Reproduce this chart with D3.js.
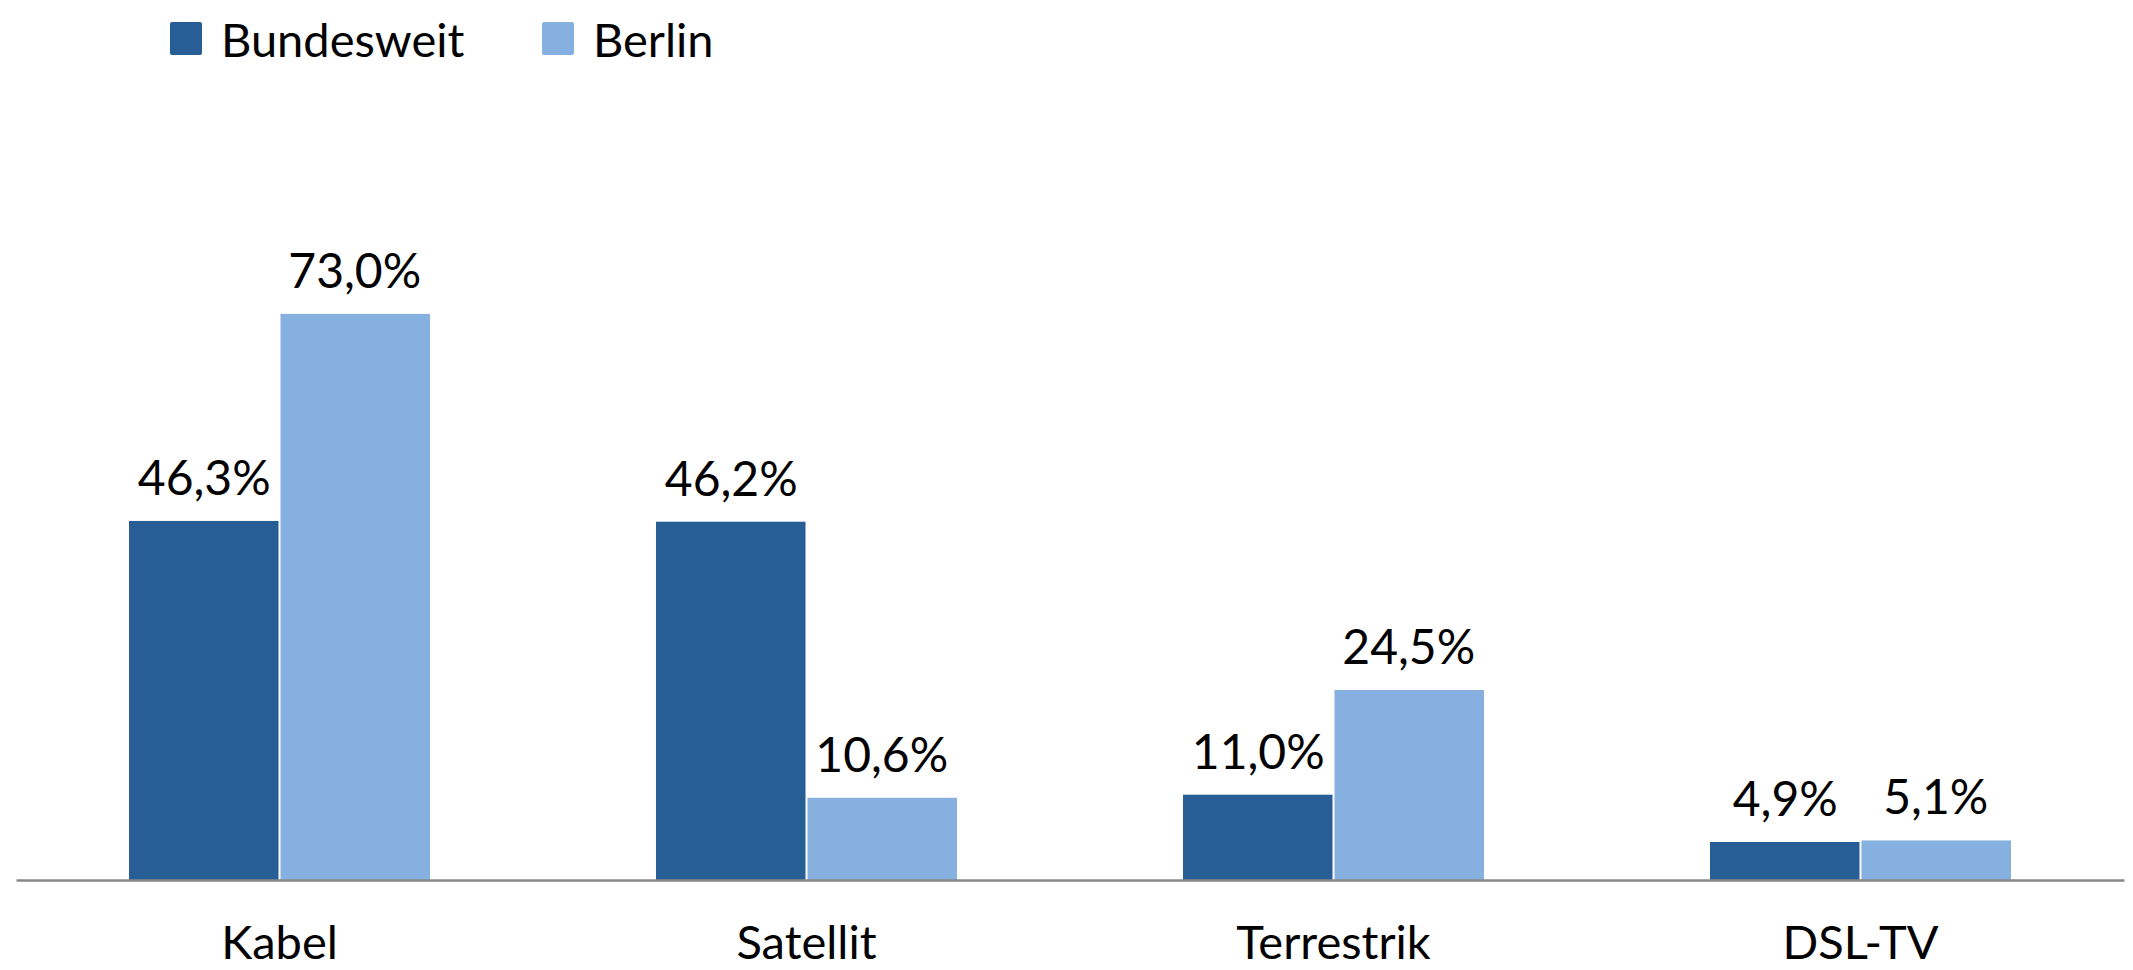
<!DOCTYPE html>
<html>
<head>
<meta charset="utf-8">
<script src="https://cdn.jsdelivr.net/npm/d3@7"></script>
<style>
  body { margin: 0; background: #fff; }
  svg { display: block; font-family: Lato, "Open Sans", sans-serif; }
</style>
</head>
<body>
<div id="chart"></div>
<script>
// data
let categories = ["Kabel", "Satellit", "Terrestrik", "DSL-TV"];
let seriesNames = ["Bundesweit", "Berlin"];
let bundesweit = [46.3, 46.2, 11.0, 4.9];
let berlin = [73.0, 10.6, 24.5, 5.1];
let colors = ["#285E96", "#86B0E0"];

function drawChart() {
    let win_width = 2133;
    let win_height = 970;

    let svg = d3.select("#chart")
        .append("svg")
        .attr("width", win_width)
        .attr("height", win_height);

    let baseline = 880;

    let x0 = d3.scaleBand().domain(categories).range([16, 2124]);
    let groupW = 301;
    let x1 = d3.scaleBand().domain(seriesNames).range([0, groupW]);
    let y = d3.scaleLinear().domain([0, 100]).range([baseline, baseline - 775.5]);

    let rows = categories.map(function(c, i) {
        return {cat: c, vals: [bundesweit[i], berlin[i]]};
    });

    let groups = svg.selectAll(".grp")
        .data(rows)
        .join("g")
        .attr("transform", function(d) {
            return "translate(" + (x0(d.cat) + (x0.bandwidth() - groupW) / 2) + ",0)";
        });

    groups.selectAll("rect")
        .data(function(d) { return d.vals.map(function(v, j) { return {s: seriesNames[j], v: v, j: j}; }); })
        .join("rect")
        .attr("x", function(d) { return x1(d.s) + (d.j == 1 ? 1 : 0); })
        .attr("width", function(d) { return x1.bandwidth() - 1; })
        .attr("y", function(d) { return y(d.v); })
        .attr("height", function(d) { return baseline - y(d.v); })
        .attr("fill", function(d) { return colors[d.j]; });

    groups.selectAll(".lbl")
        .data(function(d) { return d.vals.map(function(v, j) { return {s: seriesNames[j], v: v, j: j}; }); })
        .join("text")
        .attr("class", "lbl")
        .attr("x", function(d) { return x1(d.s) + x1.bandwidth() / 2; })
        .attr("y", function(d) { return y(d.v) - 26; })
        .attr("text-anchor", "middle")
        .attr("font-size", 48)
        .attr("fill", "#000")
        .text(function(d) { return d.v.toFixed(1).replace(".", ",") + "%"; });

    // x axis
    let xAxis = svg.append("g")
        .attr("transform", "translate(0," + baseline + ")")
        .call(d3.axisBottom(x0).tickSize(0).tickPadding(46));
    xAxis.select(".domain").attr("stroke", "#898989").attr("stroke-width", 2.5);
    xAxis.selectAll("text")
        .attr("font-size", 47)
        .attr("font-family", "Lato, 'Open Sans', sans-serif")
        .attr("fill", "#000")
        .attr("dy", "0.71em");

    // legend
    let legendX = [170, 542];
    let legend = svg.selectAll(".leg")
        .data(seriesNames)
        .join("g")
        .attr("transform", function(d, i) { return "translate(" + legendX[i] + ",0)"; });
    legend.append("rect")
        .attr("x", 0).attr("y", 22)
        .attr("width", 32).attr("height", 33)
        .attr("rx", 2)
        .attr("fill", function(d, i) { return colors[i]; });
    legend.append("text")
        .attr("x", 51).attr("y", 57)
        .attr("font-size", 47)
        .attr("fill", "#000")
        .text(function(d) { return d; });
}

drawChart();
</script>
</body>
</html>
